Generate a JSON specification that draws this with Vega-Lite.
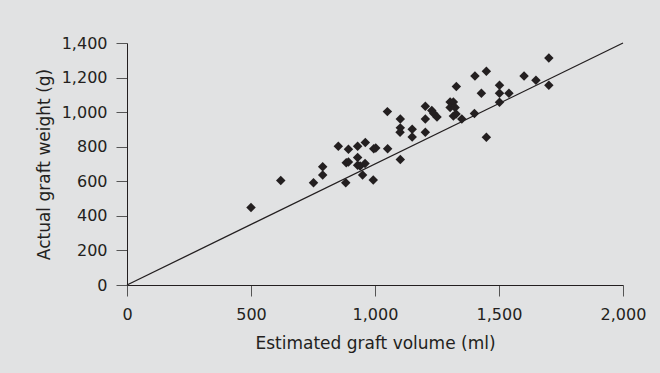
{
  "$schema": "https://vega.github.io/schema/vega-lite/v6.json",
  "width": 496,
  "height": 242,
  "autosize": {"type": "none"},
  "padding": {"left": 127, "top": 43, "right": 37, "bottom": 88},
  "background": "#e1e2e3",
  "config": {
    "view": {"stroke": null},
    "font": "DejaVu Sans"
  },
  "datasets": {
    "points": [
      {"volume": 500, "weight": 449},
      {"volume": 620, "weight": 605},
      {"volume": 752, "weight": 591},
      {"volume": 789, "weight": 684},
      {"volume": 789, "weight": 636},
      {"volume": 852, "weight": 803},
      {"volume": 882, "weight": 591},
      {"volume": 884, "weight": 707},
      {"volume": 893, "weight": 786},
      {"volume": 893, "weight": 712},
      {"volume": 930, "weight": 803},
      {"volume": 930, "weight": 738},
      {"volume": 930, "weight": 693},
      {"volume": 940, "weight": 688},
      {"volume": 960, "weight": 703},
      {"volume": 950, "weight": 636},
      {"volume": 961, "weight": 824},
      {"volume": 993, "weight": 607},
      {"volume": 995, "weight": 788},
      {"volume": 1003, "weight": 793},
      {"volume": 1050, "weight": 1003},
      {"volume": 1051, "weight": 788},
      {"volume": 1102, "weight": 961},
      {"volume": 1102, "weight": 909},
      {"volume": 1101, "weight": 884},
      {"volume": 1102, "weight": 726},
      {"volume": 1150, "weight": 901},
      {"volume": 1150, "weight": 856},
      {"volume": 1203, "weight": 1034},
      {"volume": 1203, "weight": 960},
      {"volume": 1203, "weight": 884},
      {"volume": 1229, "weight": 1009},
      {"volume": 1237, "weight": 992},
      {"volume": 1250, "weight": 972},
      {"volume": 1303, "weight": 1059},
      {"volume": 1316, "weight": 1059},
      {"volume": 1303, "weight": 1027},
      {"volume": 1323, "weight": 1027},
      {"volume": 1316, "weight": 977},
      {"volume": 1327, "weight": 989},
      {"volume": 1350, "weight": 961},
      {"volume": 1328, "weight": 1148},
      {"volume": 1401, "weight": 992},
      {"volume": 1403, "weight": 1209},
      {"volume": 1429, "weight": 1109},
      {"volume": 1449, "weight": 1236},
      {"volume": 1449, "weight": 855},
      {"volume": 1502, "weight": 1156},
      {"volume": 1502, "weight": 1109},
      {"volume": 1502, "weight": 1057},
      {"volume": 1540, "weight": 1109},
      {"volume": 1601, "weight": 1209},
      {"volume": 1649, "weight": 1185},
      {"volume": 1701, "weight": 1313},
      {"volume": 1701, "weight": 1156}
    ],
    "refline": [
      {"volume": 0, "weight": 0},
      {"volume": 2000, "weight": 1400}
    ]
  },
  "encoding": {
    "x": {
      "field": "volume", "type": "quantitative",
      "scale": {"domain": [0, 2000], "nice": false, "zero": true},
      "axis": {
        "title": "Estimated graft volume (ml)",
        "values": [0, 500, 1000, 1500, 2000],
        "format": ",d",
        "grid": false,
        "labelFlush": false,
        "labelOverlap": false,
        "domainColor": "#231f20",
        "domainWidth": 1,
        "tickColor": "#555555",
        "tickWidth": 1,
        "tickSize": 11,
        "labelFont": "DejaVu Sans",
        "labelFontSize": 16,
        "labelColor": "#231f20",
        "labelPadding": 10,
        "titleFont": "DejaVu Sans",
        "titleFontSize": 17,
        "titleFontWeight": "normal",
        "titleColor": "#231f20",
        "titlePadding": 13
      }
    },
    "y": {
      "field": "weight", "type": "quantitative",
      "scale": {"domain": [0, 1400], "nice": false, "zero": true},
      "axis": {
        "title": "Actual graft weight (g)",
        "values": [0, 200, 400, 600, 800, 1000, 1200, 1400],
        "format": ",d",
        "grid": false,
        "labelFlush": false,
        "labelOverlap": false,
        "domainColor": "#231f20",
        "domainWidth": 1,
        "tickColor": "#555555",
        "tickWidth": 1,
        "tickSize": 11,
        "labelFont": "DejaVu Sans",
        "labelFontSize": 16,
        "labelColor": "#231f20",
        "labelPadding": 9,
        "titleFont": "DejaVu Sans",
        "titleFontSize": 17,
        "titleFontWeight": "normal",
        "titleColor": "#231f20",
        "titlePadding": 8
      }
    }
  },
  "layer": [
    {
      "data": {"name": "refline"},
      "mark": {"type": "line", "color": "#231f20", "strokeWidth": 1.3}
    },
    {
      "data": {"name": "points"},
      "mark": {"type": "point", "shape": "diamond", "filled": true, "size": 90, "color": "#231f20", "opacity": 1}
    }
  ]
}
